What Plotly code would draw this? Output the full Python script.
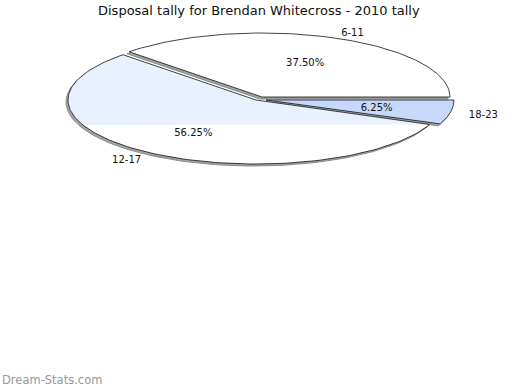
import numpy as np
import plotly.graph_objects as go

# ---- data ----
title_text = "Disposal tally for Brendan Whitecross - 2010 tally"
categories = ["6-11", "12-17", "18-23"]
values = [6, 9, 1]
slice_colors = ["#ffffff", "#e9f1fe", "#c6d9fd"]
watermark = "Dream-Stats.com"

# ---- layout parameters (pixel space) ----
W, H = 520, 390
A, B = 188, 64                      # ellipse semi-axes
centers = [(262, 97), (256, 100), (266, 100)]
shadow_dx, shadow_dy = -2, 2
light_clip_y = 125                  # 12-17 light fill stops here (as in reference)
label_dy = 1.5                      # small baseline tweak for text

total = sum(values)
fracs = [v / total for v in values]
starts = np.concatenate([[0], np.cumsum(fracs)[:-1]]) * 2 * np.pi
ends = np.cumsum(fracs) * 2 * np.pi


def wedge(cx, cy, t0, t1, n=120):
    t = np.linspace(t0, t1, n)
    xs = np.concatenate([[cx], cx + A * np.cos(t), [cx]])
    ys = np.concatenate([[cy], cy - B * np.sin(t), [cy]])
    return xs, ys


def clip_below(xs, ys, ylim):
    """keep part of polygon with y <= ylim (pixel coords)"""
    pts = list(zip(xs, ys))
    out = []
    for i in range(len(pts)):
        p, q = pts[i], pts[(i + 1) % len(pts)]
        pin, qin = p[1] <= ylim, q[1] <= ylim
        if pin:
            out.append(p)
        if pin != qin:
            r = (ylim - p[1]) / (q[1] - p[1])
            out.append((p[0] + r * (q[0] - p[0]), ylim))
    if not out:
        return [], []
    out.append(out[0])
    return [o[0] for o in out], [o[1] for o in out]


fig = go.Figure()

# shadows
for i in range(len(values)):
    cx, cy = centers[i]
    xs, ys = wedge(cx + shadow_dx, cy + shadow_dy, starts[i], ends[i])
    fig.add_trace(go.Scatter(x=xs, y=ys, mode="lines", fill="toself",
                             fillcolor="#a3a3a3", line=dict(color="#8c8c8c", width=1),
                             hoverinfo="skip", showlegend=False))

# slices
for i in range(len(values)):
    cx, cy = centers[i]
    xs, ys = wedge(cx, cy, starts[i], ends[i])
    if i == 1:
        fig.add_trace(go.Scatter(x=xs, y=ys, mode="lines", fill="toself",
                                 fillcolor="#ffffff", line=dict(width=0),
                                 hoverinfo="skip", showlegend=False))
        cxs, cys = clip_below(xs, ys, light_clip_y)
        fig.add_trace(go.Scatter(x=cxs, y=cys, mode="lines", fill="toself",
                                 fillcolor=slice_colors[i], line=dict(width=0),
                                 hoverinfo="skip", showlegend=False))
        fig.add_trace(go.Scatter(x=xs, y=ys, mode="lines",
                                 line=dict(color="#111111", width=0.8),
                                 hoverinfo="skip", showlegend=False))
    else:
        fig.add_trace(go.Scatter(x=xs, y=ys, mode="lines", fill="toself",
                                 fillcolor=slice_colors[i],
                                 line=dict(color="#111111", width=0.8),
                                 hoverinfo="skip", showlegend=False))

# labels
font = dict(family="DejaVu Sans", size=10, color="#111111")
for i in range(len(values)):
    cx, cy = centers[i]
    mid = (starts[i] + ends[i]) / 2
    px = cx + 0.6 * A * np.cos(mid)
    py = cy - 0.6 * B * np.sin(mid) + label_dy
    fig.add_trace(go.Scatter(x=[px], y=[py], mode="text",
                             text=[f"{fracs[i] * 100:.2f}%"],
                             textposition="middle center", textfont=font,
                             hoverinfo="skip", showlegend=False))
    lx = cx + 1.1 * A * np.cos(mid)
    ly = cy - 1.1 * B * np.sin(mid) + label_dy
    pos = "middle right" if np.cos(mid) >= 0 else "middle left"
    fig.add_trace(go.Scatter(x=[lx], y=[ly], mode="text", text=[categories[i]],
                             textposition=pos, textfont=font,
                             hoverinfo="skip", showlegend=False))

fig.update_layout(
    width=W, height=H,
    margin=dict(l=0, r=0, t=0, b=0),
    paper_bgcolor="white", plot_bgcolor="white",
    xaxis=dict(range=[0, W], visible=False, fixedrange=True),
    yaxis=dict(range=[H, 0], visible=False, fixedrange=True),
    annotations=[
        dict(text=title_text, x=0.498, y=1 - 10 / H, xref="paper", yref="paper",
             xanchor="center", yanchor="middle", showarrow=False,
             font=dict(family="DejaVu Sans", size=13, color="#111111")),
        dict(text=watermark, x=0, y=1 - 380 / H, xref="paper", yref="paper",
             xanchor="left", yanchor="middle", showarrow=False,
             font=dict(family="DejaVu Sans", size=11.5, color="#999999")),
    ],
)

fig.write_html("out.html", config={"displayModeBar": False},
               post_script="document.body.style.margin='0';"
                           "document.body.style.overflow='hidden';")
